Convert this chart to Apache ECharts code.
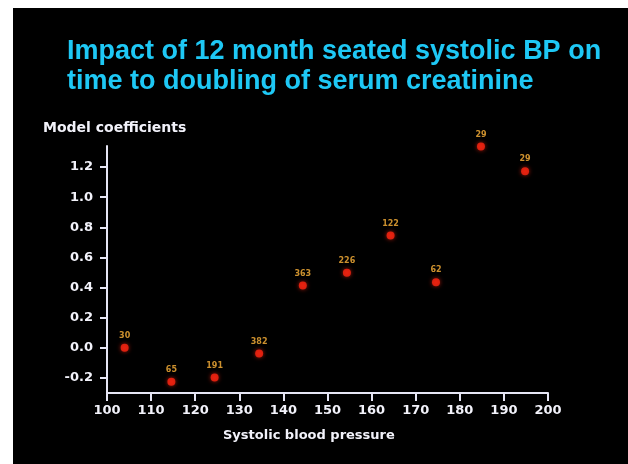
<!DOCTYPE html>
<html>
<head>
<meta charset="utf-8">
<script src="https://cdn.jsdelivr.net/npm/echarts@6/dist/echarts.min.js"></script>
<style>
  html, body { margin: 0; padding: 0; background: #ffffff; }
  #chart { width: 628px; height: 464px; }
</style>
</head>
<body>
<div id="chart"></div>
<script>
// Mean systolic blood pressure of each band (mmHg)
const systolicBP = [104.0, 114.6, 124.4, 134.5, 144.4, 154.4, 164.3, 174.6, 184.8, 194.8];
// Model coefficient for time to doubling of serum creatinine
const coefficients = [0.00, -0.225, -0.197, -0.038, 0.413, 0.499, 0.746, 0.435, 1.336, 1.172];
// Number of patients in each band
const patientCounts = [30, 65, 191, 382, 363, 226, 122, 62, 29, 29];
// Tick labels
const xTicks = [100, 110, 120, 130, 140, 150, 160, 170, 180, 190, 200];
const yTicks = [-0.2, 0.0, 0.2, 0.4, 0.6, 0.8, 1.0, 1.2];

const points = systolicBP.map((x, i) => [x, coefficients[i], patientCounts[i]]);

const axisColor = '#e6e6f5';
const chart = echarts.init(document.getElementById('chart'), null, { renderer: 'canvas' });

chart.setOption({
  backgroundColor: '#ffffff',
  animation: false,
  graphic: [
    { type: 'rect', z: -10, shape: { x: 13, y: 8, width: 615, height: 456 }, style: { fill: '#000000' } },
    {
      type: 'text', left: 67, top: 38,
      style: { text: 'Impact of 12 month seated systolic BP on', fill: '#1ec8f5',
               font: 'bold 27px "Liberation Sans"' }
    },
    {
      type: 'text', left: 67, top: 68,
      style: { text: 'time to doubling of serum creatinine', fill: '#1ec8f5',
               font: 'bold 27px "Liberation Sans"' }
    },
    {
      type: 'text', left: 43, top: 121,
      style: { text: 'Model coefficients', fill: '#f2f2fa', font: 'bold 14px "DejaVu Sans"' }
    },
    {
      type: 'text', left: 223, top: 429,
      style: { text: 'Systolic blood pressure', fill: '#f2f2fa', font: 'bold 13px "DejaVu Sans"' }
    }
  ],
  grid: { left: 107, right: 80, top: 146, bottom: 71, containLabel: false },
  xAxis: {
    type: 'value', min: xTicks[0], max: xTicks[xTicks.length - 1], interval: 10,
    axisLine: { show: true, onZero: false, lineStyle: { color: axisColor, width: 2 } },
    axisTick: { show: true, length: 8, lineStyle: { color: axisColor, width: 2 } },
    axisLabel: { color: '#f2f2fa', fontFamily: 'DejaVu Sans', fontWeight: 'bold', fontSize: 13, margin: 11,
                 customValues: xTicks },
    splitLine: { show: false }
  },
  yAxis: {
    type: 'value', min: -0.3, max: 1.34,
    axisLine: { show: true, onZero: false, lineStyle: { color: axisColor, width: 2 } },
    axisTick: { show: true, length: 7, customValues: yTicks, lineStyle: { color: axisColor, width: 2 } },
    axisLabel: { color: '#f2f2fa', fontFamily: 'DejaVu Sans', fontWeight: 'bold', fontSize: 13, margin: 14,
                 customValues: yTicks, formatter: v => v.toFixed(1) },
    splitLine: { show: false }
  },
  series: [{
    type: 'scatter',
    clip: false,
    data: points,
    symbol: 'circle',
    symbolSize: 8,
    itemStyle: { color: '#ff2612', shadowBlur: 4, shadowColor: 'rgba(255,40,20,0.8)' },
    label: {
      show: true, position: 'top', distance: 4,
      formatter: p => String(p.data[2]),
      color: '#ffb43a', fontSize: 8, fontWeight: 'bold', fontFamily: 'DejaVu Sans'
    }
  }]
});
</script>
</body>
</html>
